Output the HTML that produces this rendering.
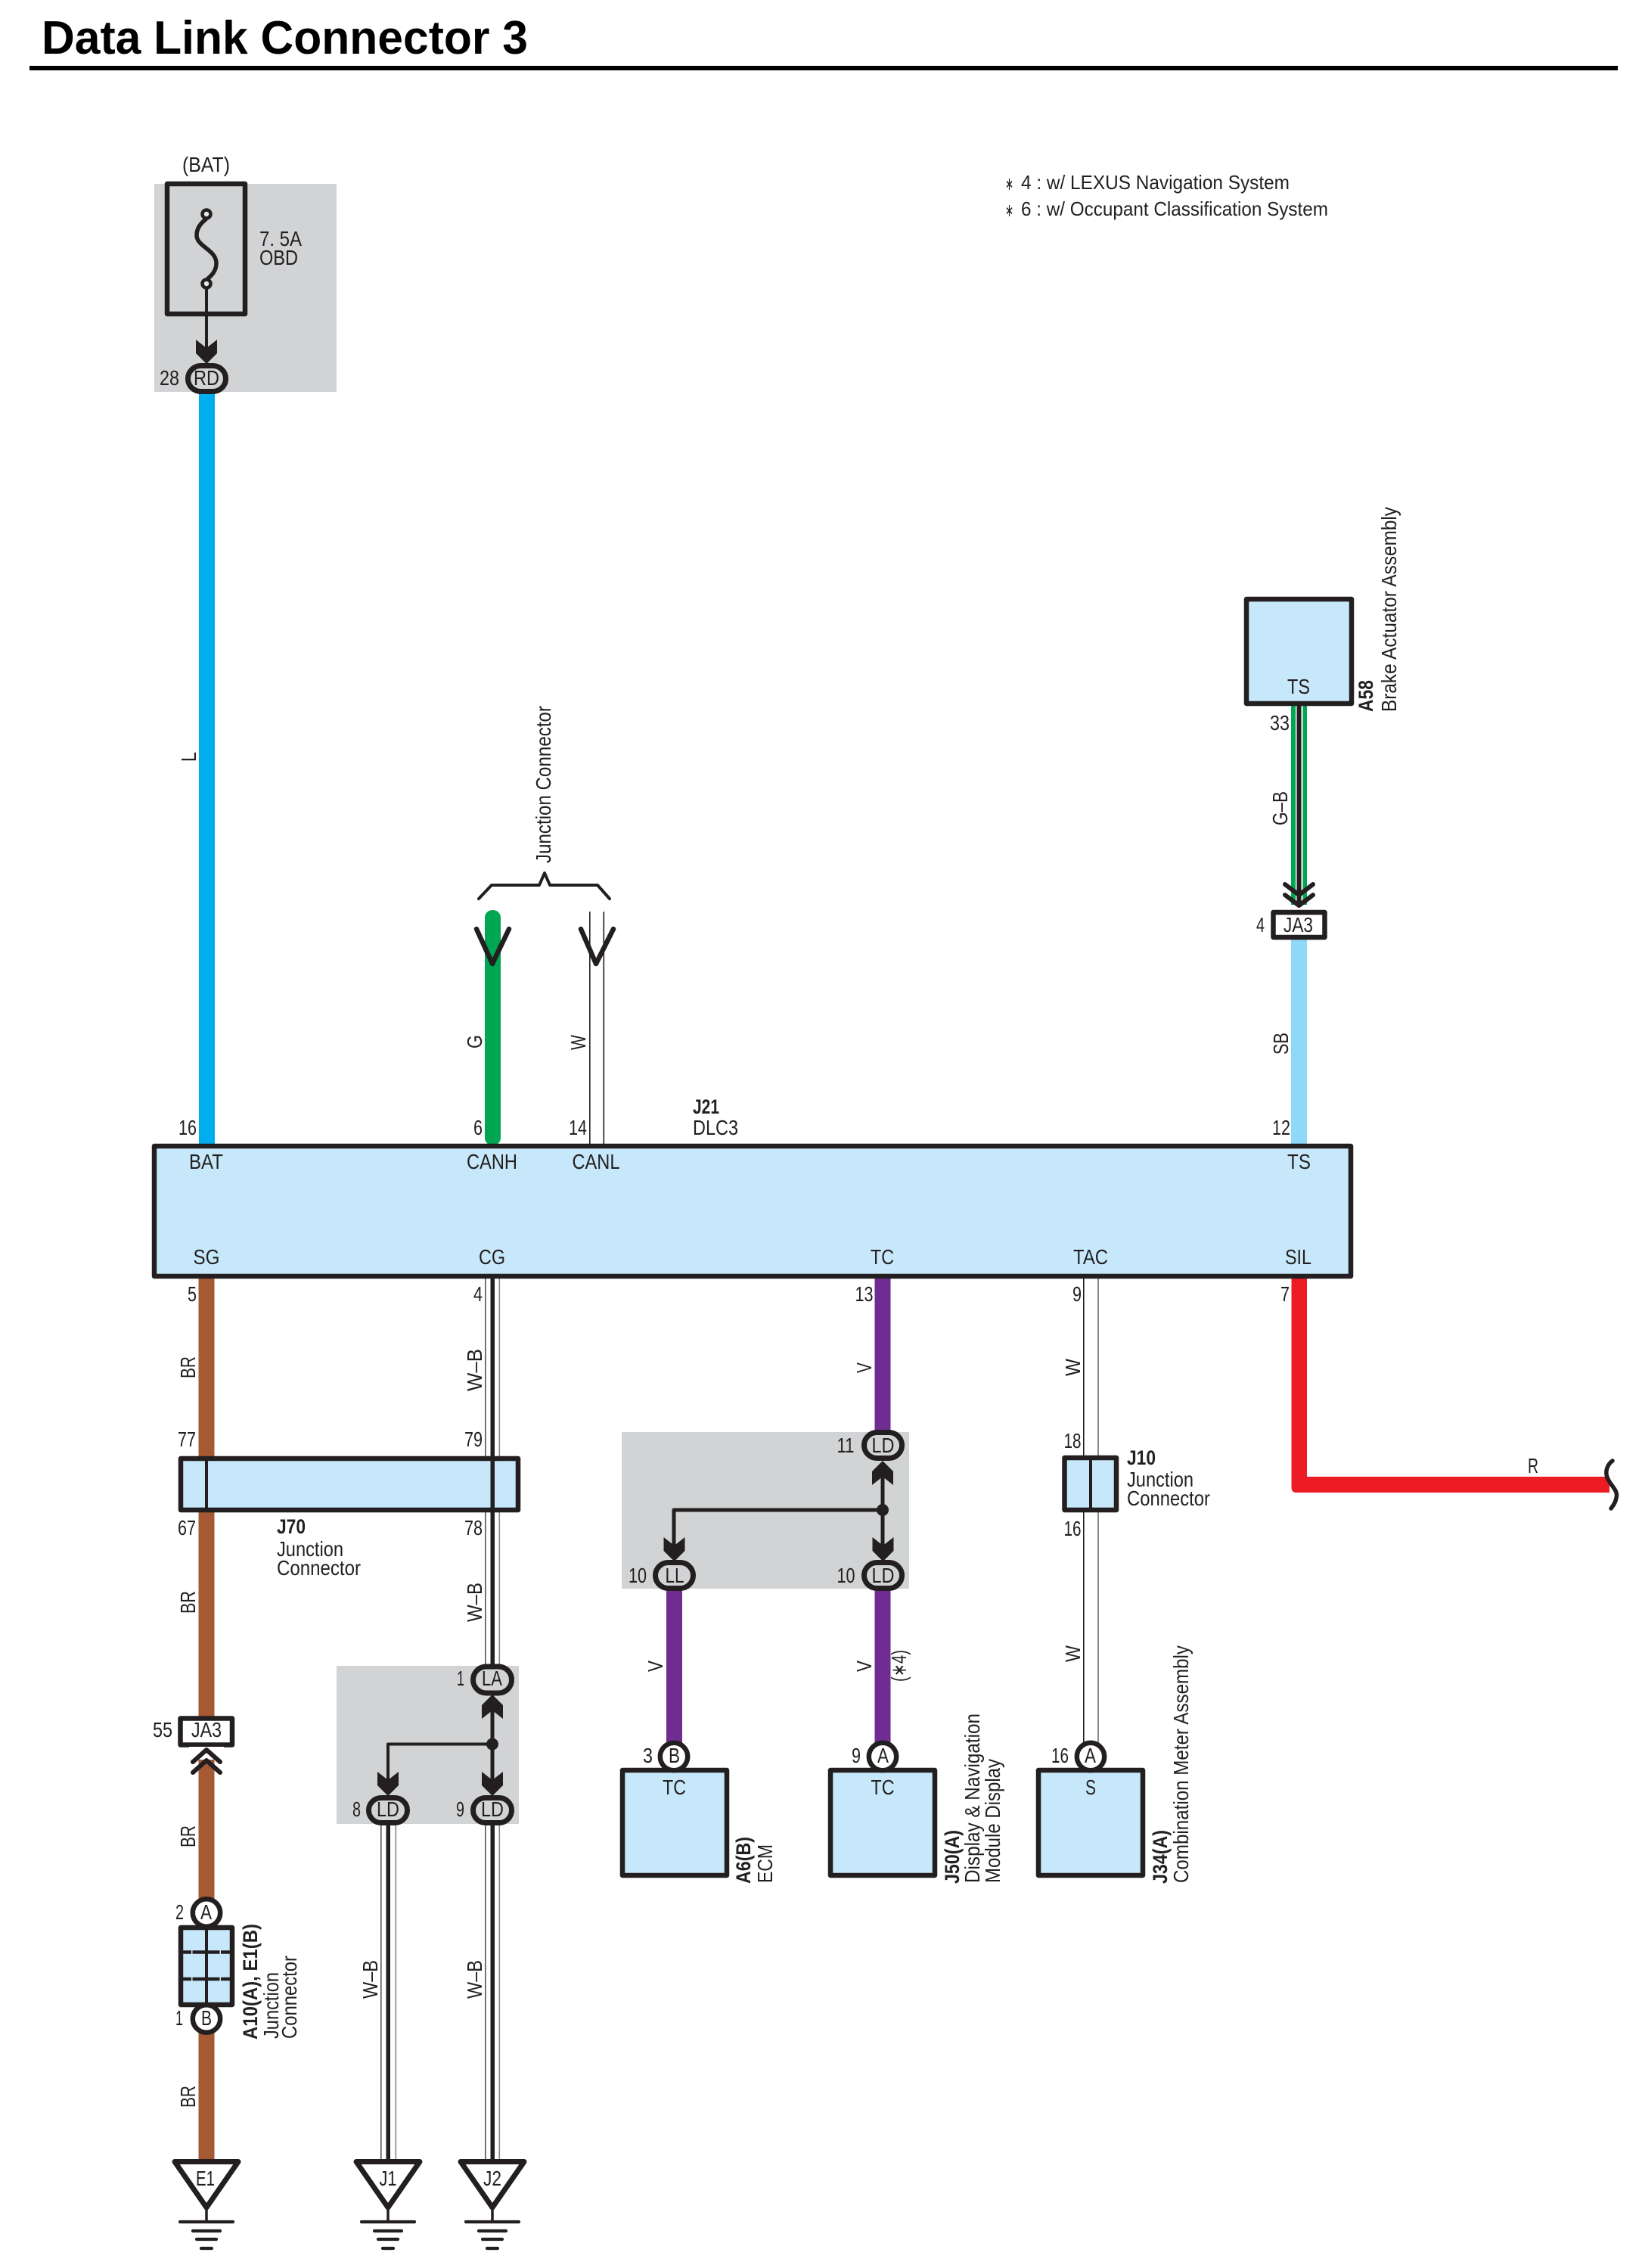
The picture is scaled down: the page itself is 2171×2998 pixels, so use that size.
<!DOCTYPE html>
<html><head><meta charset="utf-8"><title>Data Link Connector 3</title>
<style>
html,body{margin:0;padding:0;background:#fff}
svg{display:block}
text{font-family:"Liberation Sans",sans-serif;font-size:28px;fill:#231f20}
.b{font-weight:bold;font-size:27px}
.box{fill:#c7e8fa;stroke:#231f20;stroke-width:6.5;stroke-linejoin:round}
.ov{fill:#d1d3d4;stroke:#231f20;stroke-width:7}
.ci{fill:#fff;stroke:#231f20;stroke-width:6.5}
.ln{fill:none;stroke:#231f20;stroke-linecap:round;stroke-linejoin:round}
</style></head><body>
<svg xmlns="http://www.w3.org/2000/svg" width="2171" height="2998" viewBox="0 0 2171 2998">
<defs>
<polygon id="ad" points="-14,0 0,11 14,0 14,18 0,32 -14,18" fill="#231f20"/>
<g id="gnd" class="ln">
<path d="M0 2922V2937" stroke-width="3.5"/>
<path d="M-35 2937H35M-18 2949H18M-13 2960H13M-7 2972H7" stroke-width="4.2"/>
<polygon points="-42,2857.5 42,2857.5 0,2918" fill="#fff" stroke-width="7"/>
</g>
</defs>

<!-- title -->
<text x="55" y="71" textLength="643" lengthAdjust="spacingAndGlyphs" style="font-size:62px;font-weight:bold;fill:#000">Data Link Connector 3</text>
<rect x="39" y="87" width="2100" height="6" fill="#000"/>

<!-- legend -->
<text x="1329" y="251" textLength="11" lengthAdjust="spacingAndGlyphs" style="font-size:24px">∗</text>
<text x="1350" y="250" textLength="355" lengthAdjust="spacingAndGlyphs" style="font-size:26px">4 : w/ LEXUS Navigation System</text>
<text x="1329" y="286" textLength="11" lengthAdjust="spacingAndGlyphs" style="font-size:24px">∗</text>
<text x="1350" y="285" textLength="406" lengthAdjust="spacingAndGlyphs" style="font-size:26px">6 : w/ Occupant Classification System</text>

<!-- grey zones -->
<rect x="204" y="243" width="241" height="275" fill="#d1d3d4"/>
<rect x="822" y="1893" width="380" height="207" fill="#d1d3d4"/>
<rect x="445" y="2202" width="241" height="209" fill="#d1d3d4"/>

<!-- fuse -->
<rect x="221" y="243" width="103" height="172" fill="none" stroke="#231f20" stroke-width="6.5" stroke-linejoin="round"/>
<path class="ln" stroke-width="5.5" d="M272 290C264 296 260 303 260 311C260 326 286 330 286 348C286 358 280 364 274 369"/>
<circle cx="273" cy="283" r="5.5" fill="#e6e7e8" stroke="#231f20" stroke-width="4.5"/>
<circle cx="273" cy="375" r="5.5" fill="#e6e7e8" stroke="#231f20" stroke-width="4.5"/>
<path class="ln" stroke-width="4" d="M273 382V470"/>
<use href="#ad" x="273" y="449"/>

<!-- wires top -->
<rect x="263" y="518" width="21" height="996" fill="#00aeef"/>
<rect x="641" y="1203" width="21" height="311" rx="10" fill="#00a651"/>
<rect x="779" y="1205" width="1.6" height="309" fill="#231f20"/>
<rect x="797.5" y="1205" width="1.6" height="309" fill="#231f20"/>
<rect x="1707" y="930" width="21" height="266" fill="#00a651"/>
<rect x="1713" y="930" width="9.5" height="266" fill="#fff"/>
<rect x="1714.5" y="930" width="6" height="266" fill="#231f20"/>
<rect x="1707" y="1240" width="21" height="274" fill="#8ed8f8"/>

<!-- wires bottom -->
<rect x="262.5" y="1688" width="21" height="1168" fill="#a65a33"/>
<rect x="641" y="1688" width="1.6" height="515" fill="#555"/>
<rect x="659.5" y="1688" width="1.6" height="515" fill="#888"/>
<rect x="648.5" y="1688" width="5.5" height="515" fill="#231f20"/>
<rect x="1156.5" y="1688" width="21" height="205" fill="#6f2c91"/>
<rect x="881" y="2100" width="21" height="206" fill="#6f2c91"/>
<rect x="1156.5" y="2100" width="21" height="206" fill="#6f2c91"/>
<rect x="1432" y="1688" width="1.6" height="618" fill="#231f20"/>
<rect x="1451" y="1688" width="2" height="618" fill="#888"/>
<path d="M1707.5 1688H1728V1952H2128V1973H1714Q1707.5 1973 1707.5 1966Z" fill="#ed1c24"/>
<path class="ln" stroke-width="5.5" d="M2132 1931C2125 1936 2122 1945 2125 1953C2130 1965 2140 1970 2137 1980C2136 1986 2133 1990 2130 1994"/>

<!-- lower W-B wires -->
<rect x="503" y="2411" width="1.6" height="446" fill="#555"/>
<rect x="522.5" y="2411" width="1.6" height="446" fill="#888"/>
<rect x="510.5" y="2411" width="5.5" height="446" fill="#231f20"/>
<rect x="641" y="2411" width="1.6" height="446" fill="#555"/>
<rect x="659.5" y="2411" width="1.6" height="446" fill="#888"/>
<rect x="648.5" y="2411" width="5.5" height="446" fill="#231f20"/>

<!-- V terminals and brace -->
<path class="ln" stroke-width="6.5" d="M630 1228L651 1274L673 1228M768 1228L788 1274L811 1228"/>
<path class="ln" stroke-width="4" d="M633 1188L650 1170H713L720 1154L727 1170H790L806 1188"/>

<!-- main bus -->
<rect class="box" x="204" y="1515" width="1582" height="172"/>

<!-- A58 -->
<rect class="box" x="1648" y="792" width="139" height="138"/>
<path class="ln" stroke-width="6" d="M1699 1169L1717.5 1183L1736 1169M1699 1183L1717.5 1197L1736 1183"/>
<rect x="1683.5" y="1206" width="68" height="33" fill="#fff" stroke="#231f20" stroke-width="6.5" stroke-linejoin="round"/>

<!-- RD -->
<rect class="ov" x="248.5" y="483.5" width="50" height="34" rx="17"/>

<!-- J70 -->
<rect class="box" x="239" y="1928" width="446" height="68"/>
<rect x="271" y="1928" width="4" height="68" fill="#231f20"/>
<rect x="648.5" y="1928" width="5.5" height="68" fill="#231f20"/>

<!-- J10 -->
<rect class="box" x="1407.5" y="1927" width="68.5" height="69"/>
<rect x="1440" y="1927" width="4" height="69" fill="#231f20"/>

<!-- JA3 low + chevrons -->
<rect x="238.5" y="2271.5" width="68.5" height="35" fill="#fff" stroke="#231f20" stroke-width="6.5" stroke-linejoin="round"/>
<rect x="250" y="2309" width="46" height="36" fill="#fff"/>
<rect x="262.5" y="2326" width="21" height="20" fill="#a65a33"/>
<path class="ln" stroke-width="6" d="M255 2329L273 2313L291 2329M255 2343L273 2327L291 2343"/>

<!-- middle grey network TC -->
<path class="ln" stroke-width="5" d="M1167 1950V2045M1167 1996H891V2045"/>
<circle cx="1167" cy="1996" r="8" fill="#231f20"/>
<use href="#ad" transform="translate(1167 1963) scale(1 -1)"/>
<use href="#ad" x="891.5" y="2032"/>
<use href="#ad" x="1167.5" y="2032"/>
<rect class="ov" x="1142.5" y="1893.5" width="50" height="34" rx="17"/>
<rect class="ov" x="866.5" y="2065.5" width="50" height="34" rx="17"/>
<rect class="ov" x="1142.5" y="2065.5" width="50" height="34" rx="17"/>

<!-- grey network CG -->
<path class="ln" stroke-width="5" d="M651 2255V2355"/>
<path class="ln" stroke-width="4" d="M651 2305.5H513V2355"/>
<circle cx="651" cy="2305.5" r="8" fill="#231f20"/>
<use href="#ad" transform="translate(651 2272) scale(1 -1)"/>
<use href="#ad" x="513" y="2342"/>
<use href="#ad" x="651" y="2342"/>
<rect class="ov" x="625.5" y="2203" width="51" height="35" rx="17.5"/>
<rect class="ov" x="487.5" y="2376.5" width="51" height="33" rx="16.5"/>
<rect class="ov" x="625.5" y="2376.5" width="51" height="33" rx="16.5"/>

<!-- components bottom -->
<rect class="box" x="823" y="2340" width="138" height="139"/>
<rect class="box" x="1098" y="2340" width="138" height="139"/>
<rect class="box" x="1373" y="2340" width="138" height="139"/>
<circle class="ci" cx="891" cy="2322" r="18.2"/>
<circle class="ci" cx="1167" cy="2322" r="18.2"/>
<circle class="ci" cx="1442" cy="2322" r="18.2"/>

<!-- A10/E1 -->
<circle class="ci" cx="273" cy="2528.5" r="18.2"/>
<circle class="ci" cx="273" cy="2668.5" r="18.2"/>
<rect class="box" x="239" y="2548" width="68" height="102"/>
<path d="M271 2548h4v102h-4z" fill="#231f20"/>
<path d="M239 2580.5H307M239 2616H307" stroke="#231f20" stroke-width="4.5" stroke-dasharray="14 1.5 36 1.5 15"/>

<!-- grounds -->
<g class="ln"><use href="#gnd" x="273"/><use href="#gnd" x="513"/><use href="#gnd" x="651"/></g>

<!-- labels: top -->
<text x="241" y="227" textLength="63" lengthAdjust="spacingAndGlyphs">(BAT)</text>
<text x="343" y="325" textLength="56" lengthAdjust="spacingAndGlyphs">7. 5A</text>
<text x="343" y="350" textLength="51" lengthAdjust="spacingAndGlyphs">OBD</text>
<text x="211" y="509" textLength="26" lengthAdjust="spacingAndGlyphs">28</text>
<text x="256" y="509" textLength="34" lengthAdjust="spacingAndGlyphs">RD</text>
<text x="1702" y="917" textLength="30" lengthAdjust="spacingAndGlyphs">TS</text>
<text x="1679" y="965" textLength="26" lengthAdjust="spacingAndGlyphs">33</text>
<text x="1661" y="1232" textLength="11" lengthAdjust="spacingAndGlyphs">4</text>
<text x="1697" y="1232" textLength="39" lengthAdjust="spacingAndGlyphs">JA3</text>

<!-- bus pin labels -->
<text x="236" y="1500" textLength="24" lengthAdjust="spacingAndGlyphs">16</text>
<text x="626" y="1500" textLength="12" lengthAdjust="spacingAndGlyphs">6</text>
<text x="752" y="1500" textLength="24" lengthAdjust="spacingAndGlyphs">14</text>
<text x="1682" y="1500" textLength="24" lengthAdjust="spacingAndGlyphs">12</text>
<text class="b" x="916" y="1472" textLength="35" lengthAdjust="spacingAndGlyphs">J21</text>
<text x="916" y="1500" textLength="60" lengthAdjust="spacingAndGlyphs">DLC3</text>
<text x="250" y="1545" textLength="45" lengthAdjust="spacingAndGlyphs">BAT</text>
<text x="617" y="1545" textLength="67" lengthAdjust="spacingAndGlyphs">CANH</text>
<text x="756.5" y="1545" textLength="63" lengthAdjust="spacingAndGlyphs">CANL</text>
<text x="1702" y="1545" textLength="31" lengthAdjust="spacingAndGlyphs">TS</text>
<text x="255.5" y="1671" textLength="35" lengthAdjust="spacingAndGlyphs">SG</text>
<text x="633" y="1671" textLength="35" lengthAdjust="spacingAndGlyphs">CG</text>
<text x="1151" y="1671" textLength="31" lengthAdjust="spacingAndGlyphs">TC</text>
<text x="1419" y="1671" textLength="46" lengthAdjust="spacingAndGlyphs">TAC</text>
<text x="1699" y="1671" textLength="35" lengthAdjust="spacingAndGlyphs">SIL</text>
<text x="248" y="1720" textLength="12" lengthAdjust="spacingAndGlyphs">5</text>
<text x="626" y="1720" textLength="12" lengthAdjust="spacingAndGlyphs">4</text>
<text x="1130.5" y="1720" textLength="24" lengthAdjust="spacingAndGlyphs">13</text>
<text x="1418" y="1720" textLength="12" lengthAdjust="spacingAndGlyphs">9</text>
<text x="1693" y="1720" textLength="12" lengthAdjust="spacingAndGlyphs">7</text>

<!-- J70 labels -->
<text x="235" y="1912" textLength="24" lengthAdjust="spacingAndGlyphs">77</text>
<text x="614" y="1912" textLength="24" lengthAdjust="spacingAndGlyphs">79</text>
<text x="235" y="2029" textLength="24" lengthAdjust="spacingAndGlyphs">67</text>
<text x="614" y="2029" textLength="24" lengthAdjust="spacingAndGlyphs">78</text>
<text class="b" x="366" y="2027" textLength="38" lengthAdjust="spacingAndGlyphs">J70</text>
<text x="366" y="2057" textLength="88" lengthAdjust="spacingAndGlyphs">Junction</text>
<text x="366" y="2082" textLength="111" lengthAdjust="spacingAndGlyphs">Connector</text>
<text x="202" y="2296" textLength="26" lengthAdjust="spacingAndGlyphs">55</text>
<text x="253" y="2296" textLength="40" lengthAdjust="spacingAndGlyphs">JA3</text>

<!-- CG grey labels -->
<text x="604" y="2228" textLength="10" lengthAdjust="spacingAndGlyphs">1</text>
<text x="637" y="2228" textLength="27" lengthAdjust="spacingAndGlyphs">LA</text>
<text x="466" y="2401" textLength="11" lengthAdjust="spacingAndGlyphs">8</text>
<text x="498" y="2401" textLength="30" lengthAdjust="spacingAndGlyphs">LD</text>
<text x="603" y="2401" textLength="11" lengthAdjust="spacingAndGlyphs">9</text>
<text x="636" y="2401" textLength="30" lengthAdjust="spacingAndGlyphs">LD</text>

<!-- TC grey labels -->
<text x="1106.5" y="1920" textLength="23" lengthAdjust="spacingAndGlyphs">11</text>
<text x="1152.5" y="1920" textLength="30" lengthAdjust="spacingAndGlyphs">LD</text>
<text x="831" y="2092" textLength="24" lengthAdjust="spacingAndGlyphs">10</text>
<text x="879.5" y="2092" textLength="25" lengthAdjust="spacingAndGlyphs">LL</text>
<text x="1106.5" y="2092" textLength="24" lengthAdjust="spacingAndGlyphs">10</text>
<text x="1152.5" y="2092" textLength="30" lengthAdjust="spacingAndGlyphs">LD</text>

<!-- J10 labels -->
<text x="1406.5" y="1914" textLength="23" lengthAdjust="spacingAndGlyphs">18</text>
<text class="b" x="1490" y="1936" textLength="38" lengthAdjust="spacingAndGlyphs">J10</text>
<text x="1490" y="1965" textLength="88" lengthAdjust="spacingAndGlyphs">Junction</text>
<text x="1490" y="1990" textLength="110" lengthAdjust="spacingAndGlyphs">Connector</text>
<text x="1406.5" y="2030" textLength="23" lengthAdjust="spacingAndGlyphs">16</text>
<text x="2020" y="1947" textLength="14" lengthAdjust="spacingAndGlyphs">R</text>

<!-- component labels -->
<text x="850" y="2330" textLength="13" lengthAdjust="spacingAndGlyphs">3</text>
<text x="884" y="2330" textLength="15" lengthAdjust="spacingAndGlyphs">B</text>
<text x="1126" y="2330" textLength="12" lengthAdjust="spacingAndGlyphs">9</text>
<text x="1160" y="2330" textLength="15" lengthAdjust="spacingAndGlyphs">A</text>
<text x="1390" y="2330" textLength="23" lengthAdjust="spacingAndGlyphs">16</text>
<text x="1434" y="2330" textLength="15" lengthAdjust="spacingAndGlyphs">A</text>
<text x="876" y="2372" textLength="31" lengthAdjust="spacingAndGlyphs">TC</text>
<text x="1151.5" y="2372" textLength="31" lengthAdjust="spacingAndGlyphs">TC</text>
<text x="1435" y="2372" textLength="14" lengthAdjust="spacingAndGlyphs">S</text>

<!-- A10 labels -->
<text x="232" y="2537" textLength="11" lengthAdjust="spacingAndGlyphs">2</text>
<text x="265" y="2537" textLength="15" lengthAdjust="spacingAndGlyphs">A</text>
<text x="232" y="2677" textLength="10" lengthAdjust="spacingAndGlyphs">1</text>
<text x="266" y="2677" textLength="14" lengthAdjust="spacingAndGlyphs">B</text>
<text x="259" y="2889" textLength="25" lengthAdjust="spacingAndGlyphs">E1</text>
<text x="501.5" y="2889" textLength="23" lengthAdjust="spacingAndGlyphs">J1</text>
<text x="639" y="2889" textLength="24" lengthAdjust="spacingAndGlyphs">J2</text>

<!-- rotated labels -->
<g>
<text transform="translate(259 1007) rotate(-90)" textLength="13" lengthAdjust="spacingAndGlyphs">L</text>
<text transform="translate(728 1141) rotate(-90)" textLength="208" lengthAdjust="spacingAndGlyphs">Junction Connector</text>
<text transform="translate(637 1386) rotate(-90)" textLength="18" lengthAdjust="spacingAndGlyphs">G</text>
<text transform="translate(774 1388) rotate(-90)" textLength="20" lengthAdjust="spacingAndGlyphs">W</text>
<text transform="translate(1702 1091) rotate(-90)" textLength="45" lengthAdjust="spacingAndGlyphs">G–B</text>
<text transform="translate(1703 1394) rotate(-90)" textLength="29" lengthAdjust="spacingAndGlyphs">SB</text>
<text class="b" transform="translate(1815 941) rotate(-90)" textLength="42" lengthAdjust="spacingAndGlyphs">A58</text>
<text transform="translate(1846 941) rotate(-90)" textLength="271" lengthAdjust="spacingAndGlyphs">Brake Actuator Assembly</text>
<text transform="translate(258 1822) rotate(-90)" textLength="29" lengthAdjust="spacingAndGlyphs">BR</text>
<text transform="translate(637 1839) rotate(-90)" textLength="56" lengthAdjust="spacingAndGlyphs">W–B</text>
<text transform="translate(258 2133) rotate(-90)" textLength="30" lengthAdjust="spacingAndGlyphs">BR</text>
<text transform="translate(637 2144) rotate(-90)" textLength="52" lengthAdjust="spacingAndGlyphs">W–B</text>
<text transform="translate(258 2442) rotate(-90)" textLength="29" lengthAdjust="spacingAndGlyphs">BR</text>
<text transform="translate(258 2786) rotate(-90)" textLength="29" lengthAdjust="spacingAndGlyphs">BR</text>
<text transform="translate(499 2642) rotate(-90)" textLength="51" lengthAdjust="spacingAndGlyphs">W–B</text>
<text transform="translate(637 2642) rotate(-90)" textLength="51" lengthAdjust="spacingAndGlyphs">W–B</text>
<text class="b" transform="translate(340 2696) rotate(-90)" textLength="153" lengthAdjust="spacingAndGlyphs">A10(A), E1(B)</text>
<text transform="translate(368 2695) rotate(-90)" textLength="88" lengthAdjust="spacingAndGlyphs">Junction</text>
<text transform="translate(392 2695) rotate(-90)" textLength="110" lengthAdjust="spacingAndGlyphs">Connector</text>
<text transform="translate(1152 1815) rotate(-90)" textLength="14" lengthAdjust="spacingAndGlyphs">V</text>
<text transform="translate(1428 1819) rotate(-90)" textLength="23" lengthAdjust="spacingAndGlyphs">W</text>
<text transform="translate(1428 2197) rotate(-90)" textLength="22" lengthAdjust="spacingAndGlyphs">W</text>
<text transform="translate(876 2210) rotate(-90)" textLength="15" lengthAdjust="spacingAndGlyphs">V</text>
<text transform="translate(1152 2210) rotate(-90)" textLength="15" lengthAdjust="spacingAndGlyphs">V</text>
<text transform="translate(1198 2223) rotate(-90)" textLength="42" lengthAdjust="spacingAndGlyphs">(∗4)</text>
<text class="b" transform="translate(992 2490) rotate(-90)" textLength="62" lengthAdjust="spacingAndGlyphs">A6(B)</text>
<text transform="translate(1021 2489) rotate(-90)" textLength="51" lengthAdjust="spacingAndGlyphs">ECM</text>
<text class="b" transform="translate(1268 2490) rotate(-90)" textLength="71" lengthAdjust="spacingAndGlyphs">J50(A)</text>
<text transform="translate(1295 2489) rotate(-90)" textLength="224" lengthAdjust="spacingAndGlyphs">Display &amp; Navigation</text>
<text transform="translate(1322 2489) rotate(-90)" textLength="164" lengthAdjust="spacingAndGlyphs">Module Display</text>
<text class="b" transform="translate(1543 2490) rotate(-90)" textLength="71" lengthAdjust="spacingAndGlyphs">J34(A)</text>
<text transform="translate(1571 2489) rotate(-90)" textLength="314" lengthAdjust="spacingAndGlyphs">Combination Meter Assembly</text>
</g>
</svg>
</body></html>
